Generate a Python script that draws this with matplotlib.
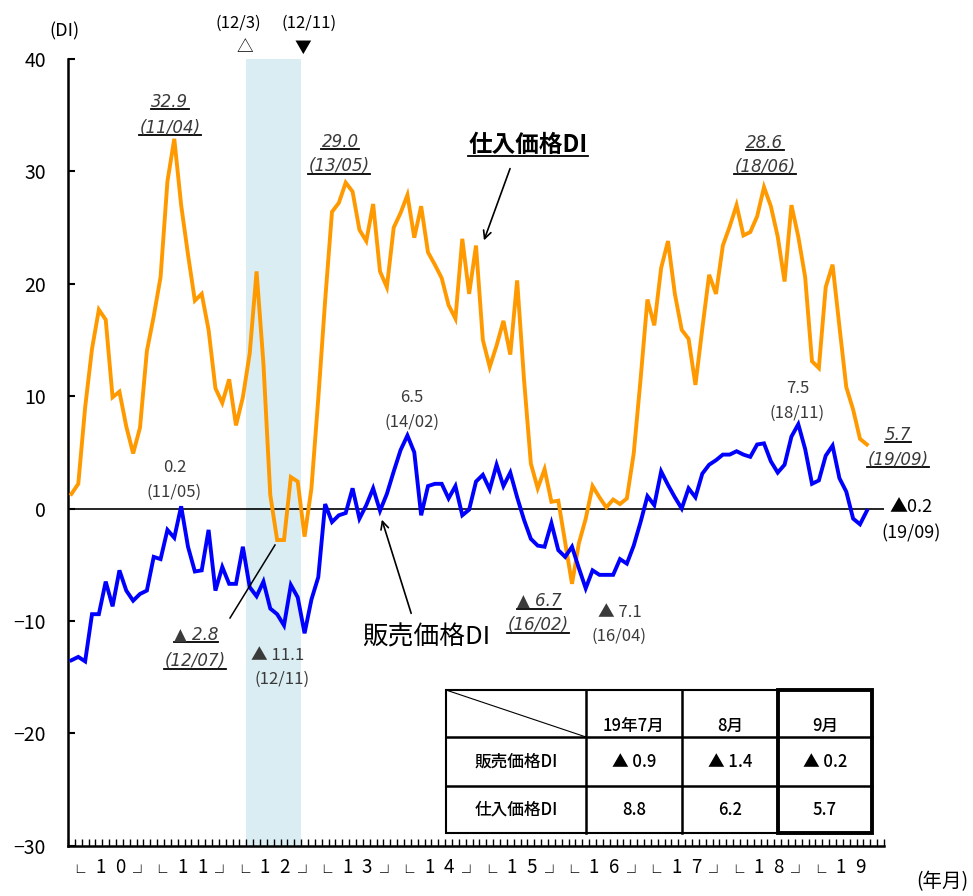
import matplotlib
matplotlib.use("Agg")
import matplotlib.pyplot as plt
from matplotlib.lines import Line2D
from matplotlib.patches import Rectangle
from matplotlib.textpath import TextPath
from matplotlib.font_manager import FontProperties, findfont, get_font
import numpy as np

plt.rcParams['font.family'] = ['Noto Sans CJK JP', 'DejaVu Sans']
plt.rcParams['axes.unicode_minus'] = True

# 仕入価格DI (orange), monthly 2010/01 - 2019/09
shiire = [1.3, 2.2, 9.0, 14.2, 17.7, 16.8, 9.9, 10.4, 7.3, 4.9, 7.2, 14.0,
          17.1, 20.6, 29.1, 32.9, 27.0, 22.6, 18.5, 19.1, 15.9, 10.7, 9.4, 11.5,
          7.4, 9.9, 13.8, 21.1, 12.9, 1.2, -2.8, -2.8, 2.8, 2.4, -2.5, 1.8,
          9.8, 18.5, 26.4, 27.2, 29.0, 28.2, 24.8, 23.8, 27.1, 21.1, 19.7, 25.0,
          26.3, 27.9, 24.1, 26.9, 22.8, 21.7, 20.5, 18.1, 16.9, 24.0, 19.1, 23.4,
          15.0, 12.6, 14.5, 16.7, 13.7, 20.3, 11.5, 4.0, 1.8, 3.5, 0.6, 0.7,
          -3.0, -6.7, -3.1, -0.9, 2.0, 1.0, 0.1, 0.8, 0.4, 0.9, 4.9, 11.5,
          18.6, 16.3, 21.4, 23.8, 19.1, 15.9, 15.1, 11.0, 16.0, 20.8, 19.1, 23.4,
          25.1, 27.0, 24.3, 24.6, 26.0, 28.6, 26.9, 24.2, 20.2, 27.0, 24.2, 20.6,
          13.1, 12.5, 19.7, 21.7, 16.2, 10.8, 8.8, 6.2, 5.7]

# 販売価格DI (blue)
hanbai = [-13.5, -13.2, -13.6, -9.4, -9.4, -6.5, -8.7, -5.5, -7.3, -8.2, -7.6, -7.3,
          -4.3, -4.5, -1.9, -2.6, 0.2, -3.4, -5.6, -5.5, -1.9, -7.3, -5.2, -6.7,
          -6.7, -3.4, -7.0, -7.8, -6.5, -8.9, -9.4, -10.4, -6.8, -7.9, -11.1, -8.1,
          -6.1, 0.4, -1.2, -0.6, -0.4, 1.8, -0.9, 0.3, 1.8, -0.2, 1.3, 3.3,
          5.2, 6.5, 5.0, -0.6, 2.0, 2.2, 2.2, 0.9, 2.0, -0.6, -0.1, 2.4,
          3.0, 1.7, 3.9, 2.0, 3.2, 1.0, -1.0, -2.7, -3.3, -3.4, -1.3, -3.7,
          -4.3, -3.4, -5.3, -7.1, -5.5, -5.9, -5.9, -5.9, -4.5, -4.9, -3.3, -1.2,
          1.1, 0.3, 3.3, 2.1, 1.0, 0.0, 1.8, 1.0, 3.1, 3.9, 4.3, 4.8,
          4.8, 5.1, 4.8, 4.6, 5.7, 5.8, 4.2, 3.2, 3.9, 6.4, 7.5, 5.3,
          2.2, 2.5, 4.7, 5.6, 2.7, 1.5, -0.9, -1.4, -0.2]

years = ['10', '11', '12', '13', '14', '15', '16', '17', '18', '19']
n_months = 119   # category slots on the axis

table_cols = ['19年7月', '8月', '9月']
table_rows = ['販売価格DI', '仕入価格DI']
table_vals = [['▲ 0.9', '▲ 1.4', '▲ 0.2'], ['8.8', '6.2', '5.7']]

W, H = 973, 896
fig = plt.figure(figsize=(W / 100, H / 100), dpi=100)


def px(x, y):
    return x / W, 1 - y / H


ax = fig.add_axes([68 / W, 1 - 845.7 / H, (884 - 68) / W, (845.7 - 59) / H])

x = np.arange(len(shiire))
ax.axvspan(25.5, 33.5, color='#DAEDF2', zorder=0, lw=0)
ax.axhline(0, color='black', lw=1.2, zorder=1)
ax.plot(x, shiire, color='#FF9900', lw=2.8, zorder=3, solid_joinstyle='miter')
ax.plot(x, hanbai, color='#0000FF', lw=2.8, zorder=4, solid_joinstyle='miter')

ax.set_xlim(-0.5, n_months - 0.5)
ax.set_ylim(-30, 40)
for s in ['top', 'right']:
    ax.spines[s].set_visible(False)
for s in ['left', 'bottom']:
    ax.spines[s].set_linewidth(1.8)

ax.set_yticks(range(-30, 41, 10))
ax.tick_params(axis='y', direction='in', length=5, width=1.5, labelsize=14, pad=16)
ax.set_xticks([])
ax.set_xticks(np.arange(-0.5, n_months, 1.0), minor=True)
ax.tick_params(axis='x', which='minor', direction='in', length=5, width=1)

# year labels: └ 1 0 ┘
for k, yr in enumerate(years):
    ax.text(12 * k + 4.2, -31.98, yr[0], fontsize=13.5, ha='center', va='center',
            clip_on=False)
    ax.text(12 * k + 7.1, -31.98, yr[1], fontsize=13.5, ha='center', va='center',
            clip_on=False)

# bracket glyphs, sized from their ink; ┘ and └ sit on either side of each year break
bfont = 'Noto Sans CJK JP'
bprop = FontProperties(family=bfont)
e100 = TextPath((0, 0), '└', size=100, prop=bprop).get_extents()
b_px = 100 * 8.5 / e100.height
b_pt = b_px * 72 / 100
eL = TextPath((0, 0), '└', size=b_px, prop=bprop).get_extents()
eR = TextPath((0, 0), '┘', size=b_px, prop=bprop).get_extents()
bf = get_font(findfont(bprop))
bf.set_size(b_pt, 100)
adv = bf.load_char(ord('┘')).linearHoriAdvance / 65536
ink_bottom = 873
for k in range(len(years)):
    jx = 67.7 + 82.3 * k          # year break, in pixels
    fig.text(*px(jx + 0.6, ink_bottom + eL.y0), '└', fontsize=b_pt,
             family=[bfont], ha='left', va='baseline')
    if k > 0:
        fig.text(*px(jx - 0.6 - adv, ink_bottom + eR.y0), '┘', fontsize=b_pt,
                 family=[bfont], ha='left', va='baseline')

fig.text(*px(64, 31), '(DI)', fontsize=13, ha='center', va='center')
fig.text(*px(942, 882), '(年月)', fontsize=14, ha='center', va='center')

fig.text(*px(238, 23), '(12/3)', fontsize=12, ha='center', va='center')
fig.text(*px(245, 48), '△', fontsize=12, ha='center', va='center')
fig.text(*px(309, 23), '(12/11)', fontsize=12, ha='center', va='center')
fig.text(*px(303, 48), '▼', fontsize=12, ha='center', va='center')

# blue labels
gray = '#3A3A3A'
blue_labels = [((175, 467), '0.2'), ((174, 492), '(11/05)'),
               ((412, 397), '6.5'), ((412, 422), '(14/02)'),
               ((798, 388), '7.5'), ((797, 413), '(18/11)'),
               ((278, 655), '▲ 11.1'), ((282, 679), '(12/11)'),
               ((620, 612), '▲ 7.1'), ((619, 636), '(16/04)')]
for (xx, yy), s in blue_labels:
    fig.text(*px(xx, yy), s, fontsize=12, ha='center', va='center', color=gray)
fig.text(*px(911, 507), '▲0.2', fontsize=13, ha='center', va='center')
fig.text(*px(911, 533), '(19/09)', fontsize=13, ha='center', va='center')

# orange labels (italic, underlined)
orange_labels = [((170, 102), '32.9'), ((170, 128), '(11/04)'),
                 ((340, 142), '29.0'), ((339, 166), '(13/05)'),
                 ((765, 143), '28.6'), ((765, 167), '(18/06)'),
                 ((898, 435), '5.7'), ((898, 460), '(19/09)'),
                 ((196, 635), '▲ 2.8'), ((195, 661), '(12/07)'),
                 ((539, 601), '▲ 6.7'), ((538, 625), '(16/02)')]
otexts = []
for (xx, yy), s in orange_labels:
    t = fig.text(*px(xx, yy), s, fontsize=12, ha='center', va='center',
                 color=gray, family='DejaVu Sans', style='italic')
    otexts.append(t)

t_shiire = fig.text(*px(528, 145), '仕入価格DI', fontsize=17, fontweight='bold',
                    ha='center', va='center')
otexts.append(t_shiire)
fig.text(*px(426, 637), '販売価格DI', fontsize=18.5, ha='center', va='center')

arrow = dict(arrowstyle='->', color='black', lw=1.2, mutation_scale=14)
fig.add_artist(plt.Annotation('', xy=px(483, 243), xytext=px(511, 166),
                              xycoords='figure fraction', textcoords='figure fraction',
                              arrowprops=arrow))
fig.add_artist(plt.Annotation('', xy=px(381, 517), xytext=px(412, 616),
                              xycoords='figure fraction', textcoords='figure fraction',
                              arrowprops=arrow))
fig.add_artist(Line2D(*zip(px(230, 618), px(275, 545)), transform=fig.transFigure,
                      color='black', lw=1.1))

# table
tl, tr, tt, tb = 446, 872, 690, 833
col_x = [446, 586, 682, 778, 872]
row_y = [690, 737, 786, 833]
x0, y0 = px(tl, tb)
x1, y1 = px(tr, tt)
fig.add_artist(Rectangle((x0, y0), x1 - x0, y1 - y0, transform=fig.transFigure,
                         facecolor='white', edgecolor='black', lw=1.5, zorder=5))
for yy in row_y[1:3]:
    fig.add_artist(Line2D(*zip(px(tl, yy), px(tr, yy)), transform=fig.transFigure,
                          color='black', lw=1.8, zorder=6))
for xx in col_x[1:3]:
    fig.add_artist(Line2D(*zip(px(xx, tt), px(xx, tb)), transform=fig.transFigure,
                          color='black', lw=1.8, zorder=6))
bx0, by0 = px(col_x[3], tb)
bx1, by1 = px(col_x[4], tt)
fig.add_artist(Rectangle((bx0, by0), bx1 - bx0, by1 - by0, transform=fig.transFigure,
                         facecolor='none', edgecolor='black', lw=2.8, zorder=7))
fig.add_artist(Line2D(*zip(px(tl, tt), px(col_x[1], row_y[1])), transform=fig.transFigure,
                      color='black', lw=0.8, zorder=6))

for j, c in enumerate(table_cols):
    cx = (col_x[j + 1] + col_x[j + 2]) / 2
    fig.text(*px(cx, 726), c, fontsize=12, fontweight='medium', ha='center',
             va='center', zorder=8)
for i, r in enumerate(table_rows):
    cy = (row_y[i + 1] + row_y[i + 2]) / 2
    fig.text(*px((col_x[0] + col_x[1]) / 2, cy), r, fontsize=12, fontweight='medium',
             ha='center', va='center', zorder=8)
    for j, v in enumerate(table_vals[i]):
        cx = (col_x[j + 1] + col_x[j + 2]) / 2
        fig.text(*px(cx, cy), v, fontsize=12, fontweight='medium', ha='center',
                 va='center', zorder=8)

# underlines under the italic labels
fig.canvas.draw()
renderer = fig.canvas.get_renderer()
inv = fig.transFigure.inverted()
for t in otexts:
    bb = t.get_window_extent(renderer)
    (ux0, uy0), (ux1, _) = inv.transform([(bb.x0, bb.y0), (bb.x1, bb.y1)])
    fig.add_artist(Line2D([ux0, ux1], [uy0 + 1.5 / H, uy0 + 1.5 / H],
                          transform=fig.transFigure, color='black', lw=1.3))

fig.savefig('out.png', dpi=100)
